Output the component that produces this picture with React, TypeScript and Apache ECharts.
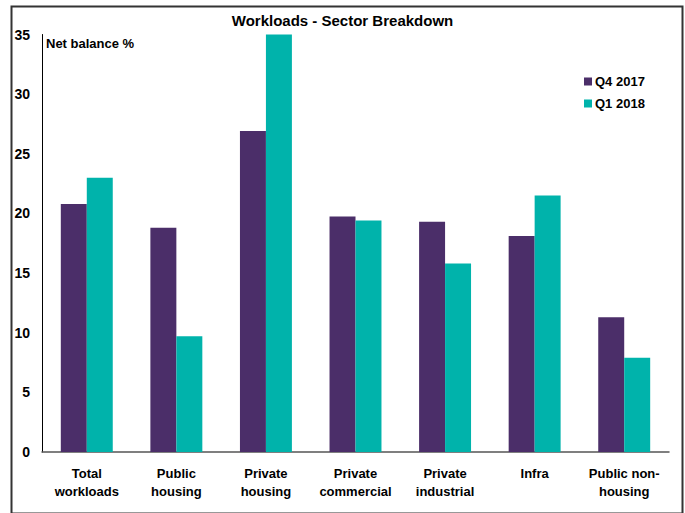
import React, { useEffect, useRef } from "react";
import * as echarts from "echarts";

const categories = [
  "Total\nworkloads",
  "Public\nhousing",
  "Private\nhousing",
  "Private\ncommercial",
  "Private\nindustrial",
  "Infra",
  "Public non-\nhousing",
];
const q42017 = [20.8, 18.8, 26.9, 19.75, 19.3, 18.1, 11.3];
const q12018 = [23.0, 9.7, 35.0, 19.4, 15.8, 21.5, 7.9];
const seriesNames = ["Q4 2017", "Q1 2018"];

const FONT = "'Liberation Sans', Arial, sans-serif";

export default function App() {
  const ref = useRef<HTMLDivElement>(null);
  useEffect(() => {
    if (!ref.current) return;
    const chart = echarts.init(ref.current, null, { renderer: "svg" });
    chart.setOption({
      animation: false,
      backgroundColor: "#ffffff",
      title: {
        text: "Workloads - Sector Breakdown",
        left: "center",
        top: 8,
        textStyle: { fontFamily: FONT, fontWeight: "bold", fontSize: 15, color: "#000" },
      },
      legend: {
        orient: "vertical",
        left: 579,
        top: 70,
        itemWidth: 8,
        itemHeight: 8,
        itemGap: 9,
        icon: "rect",
        textStyle: { fontFamily: FONT, fontWeight: "bold", fontSize: 13, color: "#000", padding: [0, 0, 0, -2] },
        data: seriesNames,
      },
      grid: { left: 42, right: 16, top: 34.5, bottom: 61, containLabel: false },
      graphic: [
        {
          type: "rect",
          left: 9,
          top: 4,
          shape: { width: 671, height: 507 },
          style: { fill: "none", stroke: "#333", lineWidth: 2 },
          silent: true,
        },
        {
          type: "text",
          left: 46,
          top: 37,
          style: { text: "Net balance %", fontFamily: FONT, fontWeight: "bold", fontSize: 13, fill: "#000" },
        },
      ],
      xAxis: {
        type: "category",
        data: categories,
        axisLine: { lineStyle: { color: "#555", width: 1.5 } },
        axisTick: { show: false },
        axisLabel: {
          fontFamily: FONT,
          fontWeight: "bold",
          fontSize: 13,
          color: "#000",
          lineHeight: 18,
          margin: 12,
          interval: 0,
        },
      },
      yAxis: {
        type: "value",
        min: 0,
        max: 35,
        interval: 5,
        axisLine: { show: true, lineStyle: { color: "#000", width: 1 } },
        axisTick: { show: false },
        splitLine: { show: false },
        axisLabel: { fontFamily: FONT, fontWeight: "bold", fontSize: 14, color: "#000", margin: 12 },
      },
      series: [
        {
          name: seriesNames[0],
          type: "bar",
          data: q42017,
          barGap: "0%",
          barCategoryGap: "42%",
          itemStyle: { color: "#4B2E69" },
        },
        {
          name: seriesNames[1],
          type: "bar",
          data: q12018,
          itemStyle: { color: "#00B3AB" },
        },
      ],
    });
    return () => chart.dispose();
  }, []);
  return <div ref={ref} style={{ width: 685, height: 513, position: "absolute", left: 0, top: 0 }} />;
}
